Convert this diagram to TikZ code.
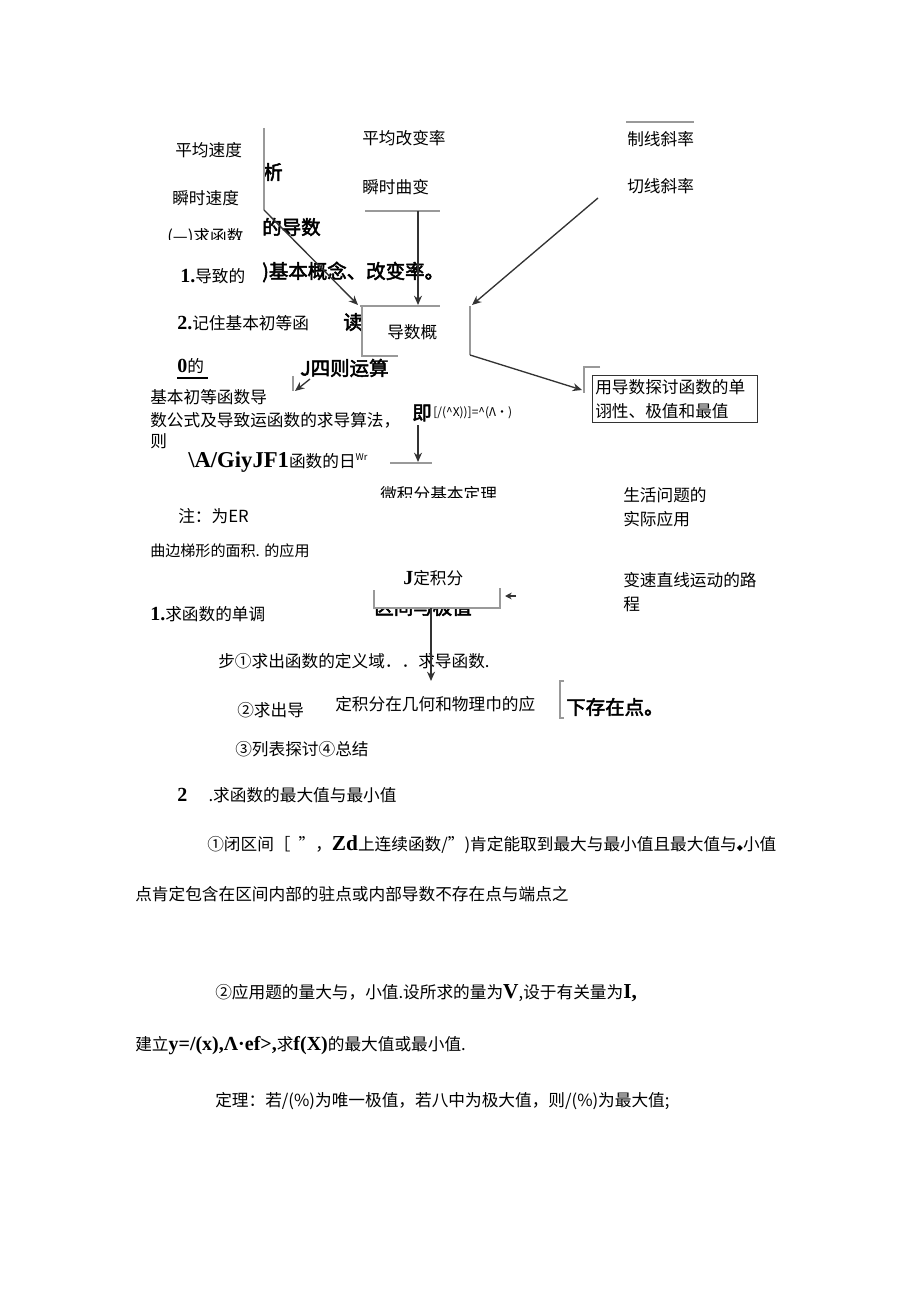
\documentclass[tikz,border=0pt]{standalone}
\usepackage{fontspec}
\newfontfamily\cjk{Noto Sans CJK SC}
\newfontfamily\cjkb[FakeBold=2.5]{Noto Sans CJK SC}
\newfontfamily\ser{Liberation Serif}
\newfontfamily\dv{DejaVu Sans}
\usetikzlibrary{arrows.meta}
\tikzset{
  txt/.style = {anchor=west, inner sep=0pt, font=\cjk\fontsize{12.5}{15}\selectfont},
  bld/.style = {anchor=west, inner sep=0pt, font=\cjkb\fontsize{14.6}{16}\selectfont},
  gl/.style = {draw=black!40, line width=1.2pt},
  ar/.style = {draw=black!80, line width=1pt, -{Stealth[length=7pt,width=6pt]}}
}
\begin{document}
\begin{tikzpicture}[x=0.75pt, y=-0.75pt]
    \useasboundingbox[fill=white] (0,0) rectangle (920,1301);

    % left column
    \node[txt] (pj) at (175,150) {平均速度};
    \node[txt] (ss) at (172,198) {瞬时速度};
    \begin{scope}
        \clip (160,222) rectangle (262,240);
        \node[txt] (qh) at (167,237) {(—)求函数};
    \end{scope}
    \node[bld] (xi) at (263,172) {析};
    \node[bld] (dd) at (262,227) {的导数};
    \node[txt] (d1) at (180,276) {{\ser\bfseries\fontsize{15}{15}\selectfont 1.}导致的};
    \node[bld] (jb) at (262,272) {)基本概念、改变率。};
    \node[txt] (jz) at (177,323) {{\ser\bfseries\fontsize{15}{15}\selectfont 2.}记住基本初等函};
    \node[bld] (du) at (343,322) {读};
    \node[txt] (ld) at (177,366) {{\ser\bfseries\fontsize{15}{15}\selectfont 0}的};
    \node[bld] (sz) at (300,368) {J四则运算};
    \node[txt] (jb2) at (150,397) {基本初等函数导};
    \node[txt] (sg) at (150,420) {数公式及导致运函数的求导算法，};
    \node[txt] (ze) at (150,441) {则};
    \node[bld] (ji) at (412,413) {即};
    \node[txt, font=\cjk\fontsize{9}{10}\selectfont] (gs) at (433,413) {[/(\^{}X))]=\^{}(Λ·)};
    \node[txt] (ag) at (188,462) {{\ser\bfseries\fontsize{17}{17}\selectfont \textbackslash A/GiyJF1}函数的日\raisebox{5pt}{\fontsize{7}{7}\selectfont Wr}};
    \begin{scope}
        \clip (370,480) rectangle (510,497);
        \node[txt] (wj) at (380,494) {微积分基本定理};
    \end{scope}
    \node[txt] (zh) at (178,516) {注：为ER};
    \node[txt, font=\cjk\fontsize{11.3}{13}\selectfont] (qb) at (150,551) {曲边梯形的面积. 的应用};
    \node[txt] (dj) at (403,578) {{\ser\bfseries\fontsize{15}{15}\selectfont J}定积分};
    \begin{scope}
        \clip (370,609) rectangle (480,630);
        \node[bld] (qj) at (374,607) {区间与极值};
    \end{scope}
    \node[txt] (d2) at (150,614) {{\ser\bfseries\fontsize{15}{15}\selectfont 1.}求函数的单调};
    \node[txt] (bu) at (218,661) {步①求出函数的定义域．．求导函数.};
    \node[txt] (qc) at (237,710) {②求出导};
    \node[txt] (dy) at (335,704) {定积分在几何和物理巾的应};
    \node[bld] (xc) at (566,707) {下存在点。};
    \node[txt] (lb) at (235,749) {③列表探讨④总结};
    \node[txt] (zd) at (177,795) {{\ser\bfseries\fontsize{15}{15}\selectfont 2}\hspace{16pt}.求函数的最大值与最小值};
    \node[txt] (bq) at (207,845) {①闭区间［\hspace{6pt}”，{\ser\bfseries\fontsize{16}{16}\selectfont Zd}上连续函数/”)肯定能取到最大与最小值且最大值与{\dv\fontsize{6}{6}\selectfont ◆}小值};
    \node[txt] (dk) at (135,894) {点肯定包含在区间内部的驻点或内部导数不存在点与端点之};
    \node[txt] (yy) at (215,993) {②应用题的量大与，小值.设所求的量为{\ser\bfseries\fontsize{16}{16}\selectfont V},设于有关量为{\ser\bfseries\fontsize{16}{16}\selectfont I,}};
    \node[txt] (jl) at (135,1046) {建立{\ser\bfseries\fontsize{15}{15}\selectfont y=/(x),Λ·ef>,}求{\ser\bfseries\fontsize{15}{15}\selectfont f(X)}的最大值或最小值.};
    \node[txt] (dl) at (215,1101) {定理：若/(\%)为唯一极值，若八中为极大值，则/(\%)为最大值;};

    % middle and right column
    \node[txt] (pg) at (362,138) {平均改变率};
    \node[txt] (sq) at (362,187) {瞬时曲变};
    \node[txt] (ds) at (387,332) {导数概};
    \node[txt] (zx) at (627,139) {制线斜率};
    \node[txt] (qx) at (627,186) {切线斜率};
    \node[draw=black!80, line width=0.8pt, minimum width=165*0.75pt, minimum height=47*0.75pt, anchor=north west, inner sep=0pt] (box) at (592,375) {};
    \node[txt] (yd) at (595,387) {用导数探讨函数的单};
    \node[txt] (yx) at (595,411) {诩性、极值和最值};
    \node[txt] (sh1) at (623,495) {生活问题的};
    \node[txt] (sh2) at (623,519) {实际应用};
    \node[txt] (bs1) at (623,580) {变速直线运动的路};
    \node[txt] (bs2) at (623,604) {程};

    % ends of connectors
    \coordinate (c1) at (264,128);
    \coordinate (c2) at (264,210);
    \coordinate (c3) at (358,305);
    \coordinate (c4) at (418,211);
    \coordinate (c5) at (418,305);
    \coordinate (c6) at (598,198);
    \coordinate (c7) at (472,305);
    \coordinate (c8) at (470,355);
    \coordinate (c9) at (582,390);
    \coordinate (c10) at (310,379);
    \coordinate (c11) at (295,391);
    \coordinate (c12) at (418,425);
    \coordinate (c13) at (418,462);
    \coordinate (c14) at (516,596);
    \coordinate (c15) at (505,596);
    \coordinate (c16) at (431,608);
    \coordinate (c17) at (431,681);

    % grey rules
    \draw[gl] (c1) -- (c2);
    \draw[gl] (365,211) -- (440,211);
    \draw[gl] (360,306) -- (440,306);
    \draw[gl] (362,306) -- (362,356) -- (398,356);
    \draw[gl] (626,122) -- (694,122);
    \draw[gl] (470,306) -- (c8);
    \draw[gl] (600,367) -- (584,367) -- (584,393);
    \draw[gl] (293,376) -- (293,391);
    \draw[gl] (390,463) -- (432,463);
    \draw[gl] (374,590) -- (374,608) -- (500,608) -- (500,588);
    \draw[gl] (564,681) -- (560,681) -- (560,718) -- (564,718);
    \draw[line width=0.9pt] (177,378) -- (208,378);

    % arrows
    \draw[ar] (c2) -- (c3);
    \draw[ar] (c4) -- (c5);
    \draw[ar] (c6) -- (c7);
    \draw[ar] (c8) -- (c9);
    \draw[ar] (c10) -- (c11);
    \draw[ar] (c12) -- (c13);
    \draw[ar, -{Stealth[length=5pt,width=5pt]}] (c14) -- (c15);
    \draw[ar] (c16) -- (c17);

\end{tikzpicture}
\end{document}
